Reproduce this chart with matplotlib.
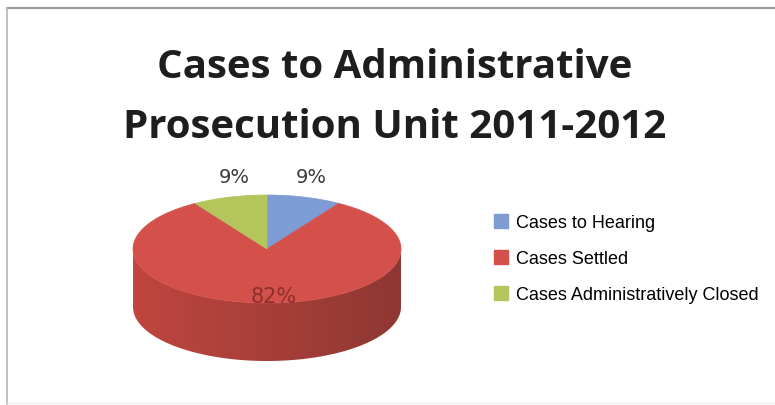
import numpy as np
import matplotlib
matplotlib.use("Agg")
from matplotlib import pyplot as plt
from matplotlib.patches import Polygon, Patch
from matplotlib.colors import LinearSegmentedColormap

# slice data
labels = ["Cases to Hearing", "Cases Settled", "Cases Administratively Closed"]
values = [9, 82, 9]
colors = ["#7d9cd4", "#d4514b", "#b4c55b"]
side_light = ["#7591c6", "#c0463f", "#a5b550"]
side_dark = ["#566e9c", "#8e3733", "#7d8a3a"]

title_lines = ["Cases to Administrative", "Prosecution Unit 2011-2012"]

fig = plt.figure(figsize=(7.75, 4.06), dpi=100)
ax = fig.add_axes([0, 0, 1, 1])
ax.set_xlim(0, 775)
ax.set_ylim(406, 0)
ax.axis("off")

# frame
ax.plot([7, 775], [9, 9], color="#9a9a9a", lw=1.5)
ax.plot([7, 7], [9, 406], color="#b5b5b5", lw=1.2)
ax.plot([7, 775], [404, 404], color="#ececec", lw=1)

for y, line in zip([67, 127], title_lines):
    ax.text(395, y, line, ha="center", va="center", fontsize=29, fontweight="bold",
            family="Open Sans", color="#1e1e1e")

# 3d-looking pie: ellipse top, extruded front side
cx, cy, rx, ry, depth = 267, 250, 134, 54, 58

def pt(theta):
    return cx + rx * np.sin(theta), cy - ry * np.cos(theta)

frac = np.array(values, dtype=float) / sum(values)
bounds = np.concatenate([[0], np.cumsum(frac)]) * 2 * np.pi

# side wall of each slice, only the front half is visible
grad = np.linspace(0, 1, 256).reshape(1, -1)
for i in range(3):
    a0, a1 = max(bounds[i], np.pi / 2), min(bounds[i + 1], 3 * np.pi / 2)
    if a1 <= a0:
        continue
    th = np.linspace(a0, a1, 200)
    xs, ys = pt(th)
    verts = list(zip(xs, ys)) + list(zip(xs[::-1], ys[::-1] + depth))
    wall = Polygon(verts, closed=True, facecolor="none", edgecolor="none")
    ax.add_patch(wall)
    cmap = LinearSegmentedColormap.from_list("wall%d" % i, [side_light[i], side_dark[i]])
    img = ax.imshow(grad, cmap=cmap, aspect="auto", interpolation="bilinear",
                    extent=[cx - rx, cx + rx, cy + ry + depth, cy - ry], zorder=1)
    img.set_clip_path(wall)

# top face wedges
for i in range(3):
    th = np.linspace(bounds[i], bounds[i + 1], 200)
    xs, ys = pt(th)
    verts = [(cx, cy)] + list(zip(xs, ys))
    ax.add_patch(Polygon(verts, closed=True, facecolor=colors[i], edgecolor=colors[i],
                         lw=0.5, zorder=2))

ax.set_xlim(0, 775)
ax.set_ylim(406, 0)

# percentage labels
pct = ["%d%%" % v for v in values]
ax.text(311, 178, pct[0], ha="center", va="center", fontsize=14, color="#3a3a3a", family="DejaVu Sans")
ax.text(234, 178, pct[2], ha="center", va="center", fontsize=14, color="#3a3a3a", family="DejaVu Sans")
ax.text(274, 297, pct[1], ha="center", va="center", fontsize=15, color="#8c2f2d",
        family="DejaVu Sans", zorder=3)

handles = [Patch(facecolor=c, edgecolor=c) for c in colors]
ax.legend(handles, labels, loc="center left", bbox_to_anchor=(0.617, 0.36), frameon=False,
          handlelength=0.75, handleheight=0.75, handletextpad=0.45, labelspacing=1.05,
          prop={"family": "Liberation Sans", "size": 13})

fig.savefig("out.png", dpi=100, facecolor="white")
